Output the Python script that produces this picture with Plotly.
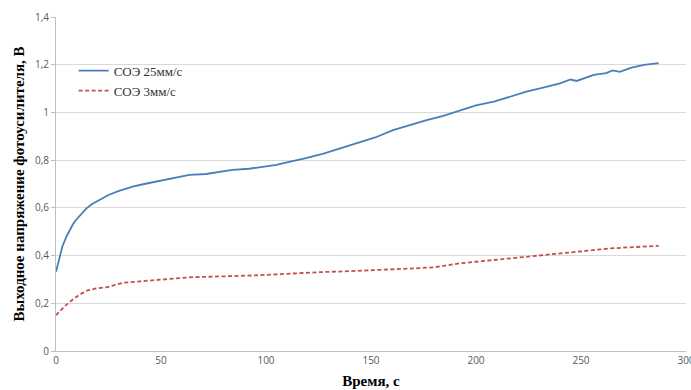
import plotly.graph_objects as go

# Data
t_25 = [0, 1.5, 3, 5, 6.5, 8, 9.5, 12, 14.5, 17, 20.5, 25, 30, 36.5, 42, 47.5, 55, 63.5,
        71.5, 78, 84, 92, 100, 105, 111, 118, 127, 133, 140, 146, 152, 160.5, 168, 176.5,
        184, 192.5, 200, 208.5, 216, 224, 232, 240, 245, 248, 256, 262, 265, 268.5, 274, 280, 287]
v_25 = [0.332, 0.39, 0.437, 0.48, 0.507, 0.53, 0.549, 0.575, 0.598, 0.615, 0.633, 0.654, 0.671,
        0.689, 0.700, 0.710, 0.724, 0.738, 0.742, 0.750, 0.759, 0.764, 0.772, 0.780, 0.793,
        0.806, 0.826, 0.842, 0.860, 0.877, 0.895, 0.926, 0.946, 0.968, 0.985, 1.010, 1.030,
        1.045, 1.065, 1.087, 1.104, 1.122, 1.138, 1.132, 1.157, 1.165, 1.176, 1.170, 1.188,
        1.199, 1.207]

t_3 = [0, 2, 4.3, 8.3, 11, 14.6, 19, 24, 28, 32, 40, 48, 56, 64, 72, 80, 88, 95, 103, 111,
       119, 127, 135, 143, 152, 161, 170, 180, 186, 192, 200, 208, 216, 224, 232, 240, 246,
       255, 264, 272, 280, 287]
v_3 = [0.15, 0.17, 0.189, 0.218, 0.235, 0.253, 0.262, 0.267, 0.276, 0.286, 0.292, 0.298, 0.302,
       0.309, 0.311, 0.312, 0.315, 0.317, 0.321, 0.326, 0.328, 0.331, 0.333, 0.336, 0.337,
       0.342, 0.346, 0.351, 0.36, 0.367, 0.374, 0.381, 0.39, 0.398, 0.405, 0.41, 0.416,
       0.422, 0.43, 0.434, 0.438, 0.441]

x_ticks = [0, 50, 100, 150, 200, 250, 300]
y_ticks = [0, 0.2, 0.4, 0.6, 0.8, 1.0, 1.2, 1.4]

fig = go.Figure()
fig.add_trace(go.Scatter(x=t_25, y=v_25, mode="lines", name="СОЭ 25мм/с",
                         line=dict(color="#4a7ebb", width=1.8)))
fig.add_trace(go.Scatter(x=t_3, y=v_3, mode="lines", name="СОЭ 3мм/с",
                         line=dict(color="#c0504d", width=1.8, dash="4px,2.5px")))

tick_font = dict(family="Open Sans, Liberation Sans, sans-serif", size=10, color="#595959")
title_font = dict(family="Liberation Serif, serif", size=15, color="#000000")

fig.update_layout(
    width=691, height=390,
    margin=dict(l=56, r=5, t=17, b=39),
    paper_bgcolor="white", plot_bgcolor="white",
    separators=", ",
    showlegend=True,
    legend=dict(x=0.028, y=0.884, xanchor="left", yanchor="top",
                bgcolor="rgba(0,0,0,0)",
                font=dict(family="Liberation Serif, serif", size=13, color="#333333"),
                tracegroupgap=0, itemwidth=30),
    xaxis=dict(range=[0, 300], tickvals=x_ticks, showgrid=False, zeroline=False,
               showline=True, linecolor="#bfbfbf", linewidth=1, automargin=False,
               ticks="outside", ticklen=0, tickfont=tick_font, ticklabeloverflow="allow",
               title=dict(text="<b>Время, с</b>", font=title_font, standoff=9)),
    yaxis=dict(range=[0, 1.4], tickvals=y_ticks, showgrid=True, gridcolor="#d9d9d9",
               gridwidth=1, zeroline=False, showline=True, linecolor="#bfbfbf", linewidth=1,
               automargin=False,
               ticks="outside", ticklen=4, tickcolor="#bfbfbf", tickfont=tick_font,
               title=dict(text="<b>Выходное напряжение фотоусилителя, В</b>",
                          font=title_font, standoff=6)),
)

fig.write_html("out.html", config={"displayModeBar": False},
               post_script="document.body.style.margin='0';document.body.style.padding='0';"
                           "document.body.style.overflow='hidden';")
